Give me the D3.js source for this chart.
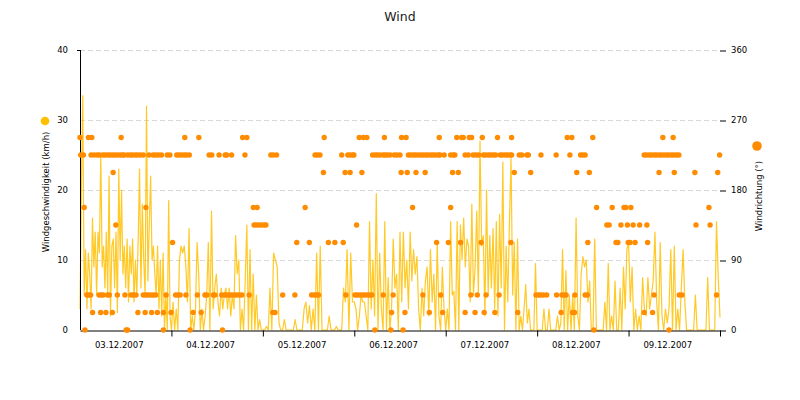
<!DOCTYPE html>
<html><head><meta charset="utf-8">
<script src="https://cdn.jsdelivr.net/npm/d3@7"></script>
<style>
body{margin:0;background:#fff}
svg{display:block}
text{font-family:"DejaVu Sans",Verdana,sans-serif}
</style>
</head><body>
<svg id="chart" width="800" height="400"></svg>
<script>
// ---------- data ----------
const chartTitle = "Wind";
const leftTitle = "Windgeschwindigkeit (km/h)";
const rightTitle = "Windrichtung (°)";
const speedTicks = [0, 10, 20, 30, 40];
const dirTicks = [0, 90, 180, 270, 360];

// wind speed (km/h), samples spread evenly across each day
const speedDay1 = [3, 20, 33.5, 5, 11.5, 3, 11, 8, 3, 16, 9, 14, 5, 14, 11, 25, 9, 12, 6, 14, 5, 22, 2, 12, 13, 6, 14, 2.5, 23, 10, 20, 8, 12, 6, 13, 4, 12, 8, 13, 4, 10, 5, 13, 23, 6, 18, 10, 5, 32, 7, 15, 22, 10, 12, 8, 5, 12, 3, 10, 2, 11, 0, 5, 0, 18.5, 2];
const speedDay2 = [0, 4, 0, 3, 0, 10, 12, 11, 12, 9, 4, 14.5, 0, 2, 0, 3, 12.5, 8, 0, 3, 0, 2, 5, 12.5, 0, 17, 3, 6, 8, 4, 2, 6, 3, 5, 6, 3, 6, 2, 5, 3, 13.5, 8, 10, 0, 3, 0, 7, 15, 0, 11.5, 0, 8, 0, 5, 0, 1.5, 0];
const speedDay3 = [0, 0, 0.5, 0, 6, 0, 11, 10, 9, 1, 0, 0, 1.5, 0, 0, 0, 0, 0, 1.5, 0, 0, 0, 0, 3, 4, 1, 3.5, 0, 3, 0, 11, 0, 12, 0, 0, 0, 0, 2, 0, 0, 0, 0.5, 0, 0, 0, 6, 4, 11.5, 0, 11, 4];
const speedDay4 = [4, 3, 0, 2, 5, 4, 4, 2, 0, 15.5, 3, 10, 2, 19.5, 0, 11, 3, 0, 15.5, 0, 7.5, 0, 3, 13, 6, 8, 0, 14, 4, 14, 6, 10, 3, 14, 7, 11.5, 8, 10.5, 3, 0, 6, 2, 7, 9, 2, 11.5, 4, 8, 0, 12.5, 2, 0, 9, 3];
const speedDay5 = [0, 3, 0, 15.5, 5, 5.5, 0, 15.5, 0, 15, 10, 16, 9, 13, 12, 4, 18, 5, 9, 17, 5, 27, 12, 13.5, 2, 20, 5, 13.5, 6, 14.5, 3, 15.5, 2, 16.5, 6, 24, 0, 12, 4, 15, 24.5, 5, 12.5, 0, 13, 0, 2, 0, 3, 6.5, 1, 3, 0, 0, 0, 9.5];
const speedDay6 = [0, 0, 0, 0, 3, 0, 0, 3, 0, 0, 0, 0, 2, 0, 1, 11.5, 0, 8.5, 0, 5, 0, 5, 0, 16, 2, 0, 8, 10.5, 9, 10, 4, 7, 0, 0, 13, 0, 0, 0, 0, 0, 4, 0, 9.5, 0, 2, 0, 7, 0, 0, 6, 0, 9, 3, 11.5];
const speedDay7 = [12.5, 4, 9, 0, 3, 0, 2, 0, 7.5, 3, 2, 7.5, 3, 5, 7, 14, 4, 0, 12.5, 2, 0, 3, 1, 3, 11.5, 0, 12, 0, 3, 0, 6, 11.5, 4, 0, 0, 0, 0, 0, 5, 0, 0, 0, 0, 0, 0, 7.5, 0, 0, 0, 0, 15.5, 7.5, 1.8];

// wind direction: hours after 03.12.2007 00:00 at which each sector was observed
const hoursWSW = [0, 2.2, 3.1, 10.8, 27.5, 31.2, 42.7, 43.8, 64.1, 73.3, 74.4, 75.3, 79.9, 84.4, 85.6, 94.3, 98.9, 100.2, 100.6, 102.2, 102.8, 105.6, 109.6, 113.3, 127.9, 129.1, 134.6, 153.0, 155.7];
const hoursSW = [0.2, 0.9, 2.9, 3.7, 4.5, 5.1, 6.0, 6.6, 7.3, 7.9, 8.6, 9.2, 9.9, 10.6, 11.2, 11.6, 12.5, 13.2, 13.8, 14.5, 15.1, 15.8, 16.6, 18.1, 19.2, 19.9, 20.6, 21.4, 22.9, 23.6, 25.4, 26.0, 26.7, 27.4, 28.0, 28.7, 33.9, 34.6, 36.5, 38.1, 38.5, 39.8, 43.3, 50.1, 50.7, 51.6, 61.7, 62.3, 63.0, 68.7, 70.3, 70.9, 71.6, 71.9, 76.8, 77.5, 78.1, 78.8, 79.6, 80.1, 80.7, 81.4, 82.5, 83.2, 84.0, 86.2, 86.8, 87.5, 88.1, 88.8, 89.5, 90.1, 90.8, 91.4, 92.1, 92.7, 93.4, 94.1, 94.5, 95.6, 97.3, 98.0, 98.4, 101.1, 101.9, 103.2, 103.9, 104.6, 105.9, 106.5, 107.2, 107.8, 108.5, 109.1, 110.3, 110.9, 111.6, 112.2, 112.9, 113.3, 115.3, 116.0, 117.3, 117.7, 121.0, 125.0, 128.6, 131.4, 132.0, 132.6, 148.1, 148.7, 149.4, 150.0, 150.7, 151.3, 152.0, 152.6, 153.3, 154.0, 154.6, 155.3, 155.9, 156.6, 157.2, 167.9];
const hoursSSW = [8.7, 63.9, 69.6, 70.9, 74.0, 84.3, 85.9, 88.2, 90.6, 97.8, 99.3, 114.0, 118.3, 130.4, 133.7, 152.0, 156.0, 161.4, 167.4];
const hoursSSE = [1.1, 17.3, 45.5, 46.5, 59.1, 87.3, 97.3, 135.6, 139.7, 142.8, 143.3, 144.6, 165.1];
const hoursSE = [9.4, 45.7, 46.3, 47.0, 47.6, 48.3, 48.8, 72.6, 138.3, 138.9, 142.0, 143.7, 145.2, 146.9, 148.8, 161.7, 165.4];
const hoursESE = [24.3, 56.9, 60.2, 65.2, 66.9, 69.1, 93.6, 96.7, 99.9, 105.3, 113.1, 133.3, 140.7, 141.2, 143.9, 144.4, 145.7, 149.0];
const hoursNE = [1.8, 2.3, 2.8, 5.0, 5.6, 6.1, 7.2, 7.7, 9.8, 11.8, 13.4, 14.0, 14.7, 16.6, 17.3, 17.9, 18.6, 19.2, 19.9, 22.6, 25.1, 25.7, 26.3, 27.8, 30.8, 32.8, 33.3, 35.0, 35.4, 37.2, 37.9, 38.5, 39.2, 39.8, 40.5, 41.1, 41.8, 42.5, 44.4, 53.2, 56.4, 60.8, 61.5, 62.1, 62.6, 69.8, 72.2, 72.8, 73.5, 74.2, 74.8, 75.5, 76.1, 76.6, 79.6, 82.2, 90.0, 94.7, 102.6, 104.3, 106.6, 110.0, 119.7, 120.4, 121.0, 121.7, 122.5, 125.1, 126.5, 127.1, 127.6, 129.9, 132.6, 133.2, 150.7, 157.3, 158.0, 167.1];
const hoursNNE = [3.3, 5.4, 6.8, 8.5, 15.2, 17.1, 18.8, 20.3, 21.9, 23.9, 29.7, 31.8, 50.6, 51.2, 81.8, 85.3, 91.7, 95.2, 101.1, 103.7, 106.1, 108.9, 114.9, 126.3, 129.3, 129.8, 148.1, 150.3];
const hoursN = [1.3, 12.1, 12.5, 21.9, 28.9, 37.4, 77.4, 81.6, 84.8, 134.9, 154.6];
const sectorDegrees = [247.5, 225, 202.5, 157.5, 135, 112.5, 45, 22.5, 0];
const sectorHours = [hoursWSW, hoursSW, hoursSSW, hoursSSE, hoursSE, hoursESE, hoursNE, hoursNNE, hoursN];

// ---------- build ----------
const HOUR = 3600e3;
const start = new Date(2007, 11, 3);
const end = new Date(2007, 11, 10);
const speedDays = [speedDay1, speedDay2, speedDay3, speedDay4, speedDay5, speedDay6, speedDay7];
const speed = [];
speedDays.forEach((arr, d) => {
  const n = d === speedDays.length - 1 ? arr.length - 1 : arr.length;
  arr.forEach((v, k) => speed.push({t: new Date(+start + (d * 24 + k * 24 / n) * HOUR), v}));
});
const dirs = [];
sectorHours.forEach((hs, i) => hs.forEach(h => dirs.push({t: new Date(+start + h * HOUR), v: sectorDegrees[i]})));

const L = 80, R = 720, T = 50, B = 330;
const x = d3.scaleTime().domain([start, end]).range([L, R]);
const yS = d3.scaleLinear().domain([0, 40]).range([B, T]);
const yD = d3.scaleLinear().domain([0, 360]).range([B, T]);

const svg = d3.select("#chart");
svg.append("rect").attr("width", 800).attr("height", 400).attr("fill", "#fff");

// title
svg.append("text").attr("x", 400).attr("y", 21).attr("text-anchor", "middle")
  .attr("font-size", 12.5).attr("fill", "#222").text(chartTitle);

// grid
svg.append("g").selectAll("line").data(speedTicks.filter(d => d > 0)).join("line")
  .attr("x1", L).attr("x2", R).attr("y1", d => yS(d) + 0.5).attr("y2", d => yS(d) + 0.5)
  .attr("stroke", "#d8d8d8").attr("stroke-dasharray", "5,3");

// left axis labels
const gl = svg.append("g").attr("transform", `translate(${L},0)`)
  .call(d3.axisLeft(yS).tickValues(speedTicks).tickSize(0).tickPadding(12));
gl.select(".domain").remove();
gl.selectAll("text").attr("font-size", 8.5).attr("fill", "#000").attr("font-family", "DejaVu Sans");

// right axis
const gr = svg.append("g").attr("transform", `translate(${R},0)`)
  .call(d3.axisRight(yD).tickValues(dirTicks).tickSize(6).tickPadding(5));
gr.select(".domain").remove();
gr.selectAll("line").attr("stroke", "#000").attr("transform", "translate(0,0.5)");
gr.selectAll("text").attr("font-size", 8.5).attr("fill", "#000").attr("font-family", "DejaVu Sans");

// speed line
svg.append("path").datum(speed)
  .attr("d", d3.line().x(d => x(d.t)).y(d => yS(d.v)))
  .attr("fill", "none").attr("stroke", "#ffc000").attr("stroke-width", 1.2)
  .attr("stroke-opacity", 0.85).attr("stroke-linejoin", "round");

// left vertical axis line
svg.append("line").attr("x1", L + 0.5).attr("x2", L + 0.5).attr("y1", T).attr("y2", B)
  .attr("stroke", "#000");
svg.append("line").attr("x1", L - 3).attr("x2", L + 0.5).attr("y1", T + 0.5).attr("y2", T + 0.5)
  .attr("stroke", "#000");

// bottom axis
const gb = svg.append("g").attr("transform", `translate(0,${B + 0.5})`)
  .call(d3.axisBottom(x).tickValues(d3.timeDay.range(new Date(2007, 11, 4), new Date(2007, 11, 11)))
    .tickSize(6).tickSizeOuter(0).tickFormat(""));
gb.select(".domain").attr("stroke", "#000");
gb.selectAll("line").attr("stroke", "#000");

// day labels at noon
const fmt = d3.timeFormat("%d.%m.%Y");
svg.append("g").selectAll("text").data(d3.timeDay.range(start, end)).join("text")
  .attr("x", d => x(d3.timeHour.offset(d, 12)) - 6.5).attr("y", 347.5)
  .attr("text-anchor", "middle").attr("font-size", 8.5).attr("fill", "#000")
  .text(d => fmt(d));

// direction dots
svg.append("g").selectAll("circle").data(dirs).join("circle")
  .attr("cx", d => x(d.t)).attr("cy", d => yD(d.v)).attr("r", 2.7)
  .attr("fill", "#ff8c00");

// axis titles + legend markers
svg.append("text").attr("transform", "translate(49,192) rotate(-90)")
  .attr("text-anchor", "middle").attr("font-size", 8.5).attr("fill", "#000").text(leftTitle);
svg.append("circle").attr("cx", 45).attr("cy", 121).attr("r", 4.3).attr("fill", "#ffc000");
svg.append("text").attr("transform", "translate(762,196) rotate(-90)")
  .attr("text-anchor", "middle").attr("font-size", 8.5).attr("fill", "#000").text(rightTitle);
svg.append("circle").attr("cx", 757).attr("cy", 146).attr("r", 4.8).attr("fill", "#ff8c00");
</script>
</body></html>
